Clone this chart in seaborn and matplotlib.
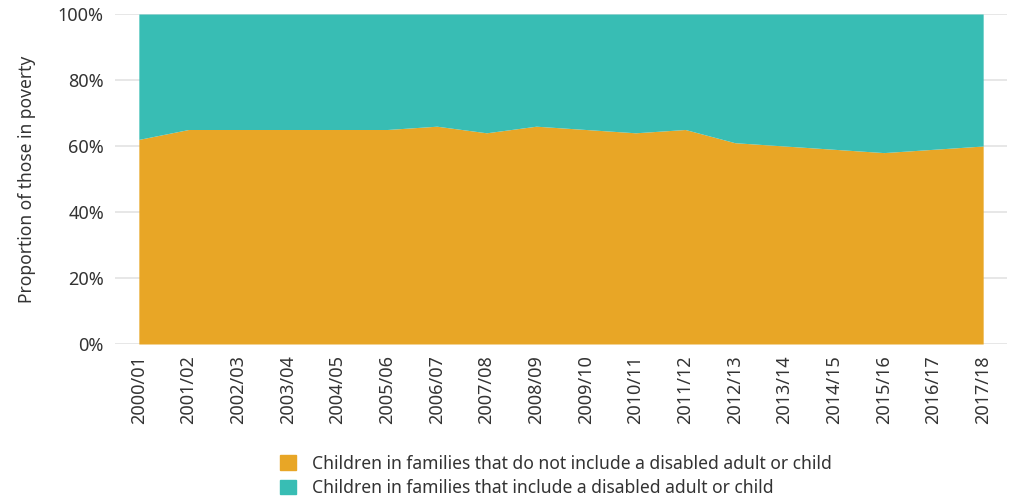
import numpy as np
import pandas as pd
import matplotlib
matplotlib.use('Agg')
import matplotlib.pyplot as plt
import seaborn as sns
from matplotlib.patches import Patch
from matplotlib.ticker import PercentFormatter

# ── DATA ──────────────────────────────────────────────────────────────────────
YEARS = ["2000/01", "2001/02", "2002/03", "2003/04", "2004/05", "2005/06",
         "2006/07", "2007/08", "2008/09", "2009/10", "2010/11", "2011/12",
         "2012/13", "2013/14", "2014/15", "2015/16", "2016/17", "2017/18"]
NOT_DISABLED = [62, 65, 65, 65, 65, 65, 66, 64, 66, 65, 64, 65,
                61, 60, 59, 58, 59, 60]
DISABLED = [100 - v for v in NOT_DISABLED]

LABELS = ["Children in families that do not include a disabled adult or child",
          "Children in families that include a disabled adult or child"]
COLORS = ["#E8A626", "#38BDB4"]

sns.set_theme(style="white")
plt.rcParams['font.family'] = ['Noto Sans', 'DejaVu Sans']

df = pd.DataFrame({"year": YEARS, "not_dis": NOT_DISABLED, "dis": DISABLED})
x = np.arange(len(df))

fig = plt.figure(figsize=(10.11, 5.03), dpi=100)
ax = fig.add_axes([115 / 1011, 1 - 344 / 503, (1007 - 115) / 1011, (344 - 14) / 503])

ax.stackplot(x, df["not_dis"], df["dis"], colors=COLORS, linewidth=0, zorder=2)

ax.set_xlim(-0.48, len(df) - 1 + 0.48)
ax.set_ylim(0, 100)
ax.set_yticks(np.arange(0, 101, 20))
ax.yaxis.set_major_formatter(PercentFormatter(decimals=0))
ax.set_xticks(x)
ax.set_xticklabels(df["year"], rotation=90)
ax.tick_params(axis='both', labelsize=13, colors="#333333", length=0, pad=8)
ax.grid(axis='y', color="#e3e3e3", linewidth=1.2, zorder=0)
for s in ax.spines.values():
    s.set_visible(False)
ax.set_ylabel("Proportion of those in poverty", fontsize=12.5, color="#333333", labelpad=16)

handles = [Patch(color=c, label=l) for c, l in zip(COLORS, LABELS)]
fig.legend(handles=handles, loc="lower left", bbox_to_anchor=(274 / 1011, 0.0),
           frameon=False, fontsize=12.6, handlelength=0.9, handleheight=0.9,
           handletextpad=0.9, labelspacing=0.35, labelcolor="#333333",
           borderpad=0.15, borderaxespad=0.2)

fig.savefig("out.png", dpi=100)
